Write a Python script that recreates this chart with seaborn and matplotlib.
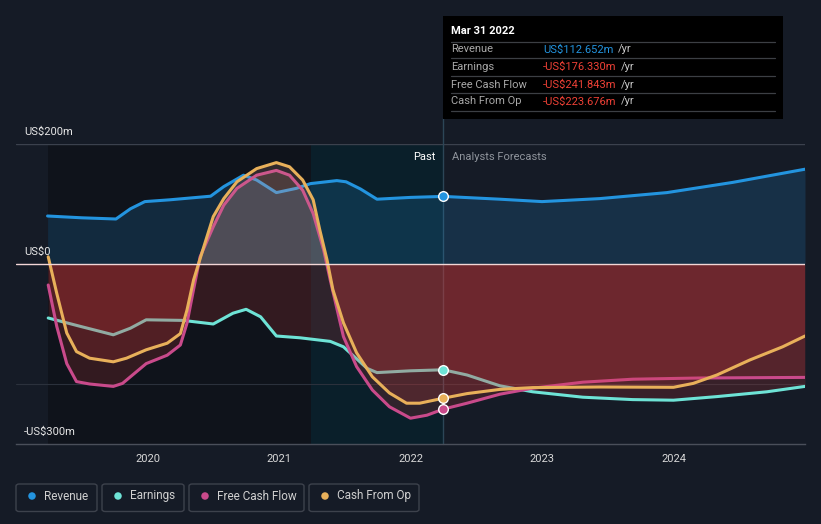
import numpy as np
import pandas as pd
import seaborn as sns
import matplotlib.pyplot as plt
from matplotlib.patches import Rectangle, FancyBboxPatch, Ellipse
from matplotlib.lines import Line2D
from matplotlib.text import Annotation

# ---- data (US$m, x in fractional years) ----
series_names = ["Revenue", "Earnings", "Free Cash Flow", "Cash From Op"]
series_colors = ["#2394df", "#6ee3d6", "#c94a8b", "#e8b05a"]

revenue_x = [2019.24, 2019.5, 2019.76, 2019.87, 2019.98, 2020.17, 2020.48, 2020.58, 2020.73, 2020.83,
             2020.98, 2021.13, 2021.24, 2021.44, 2021.51, 2021.62, 2021.745, 2022.0, 2022.25, 2022.68,
             2023.0, 2023.44, 2023.95, 2024.45, 2025.0]
revenue_y = [80, 77, 75, 92, 104, 107, 113, 129, 148, 140,
             119, 126, 134, 139, 137, 125, 108, 111, 112.652, 108,
             104, 109, 119, 136, 158]

earnings_x = [2019.245, 2019.49, 2019.74, 2019.87, 2019.99, 2020.27, 2020.5, 2020.65, 2020.75, 2020.86,
              2020.98, 2021.16, 2021.39, 2021.49, 2021.56, 2021.67, 2021.745, 2022.0, 2022.25, 2022.43,
              2022.68, 2022.93, 2023.31, 2023.69, 2024.0, 2024.33, 2024.71, 2025.0]
earnings_y = [-90, -104, -118, -107, -93, -94, -100, -82, -75.5, -88,
              -120, -123, -129, -138, -152, -174, -181, -178, -176.33, -185,
              -203, -213, -222, -226, -227, -221, -213, -204]

fcf_x = [2019.245, 2019.31, 2019.386, 2019.46, 2019.56, 2019.74, 2019.81, 2019.99, 2020.15, 2020.25,
         2020.30, 2020.35, 2020.40, 2020.50, 2020.58, 2020.68, 2020.83, 2020.98, 2021.08, 2021.18,
         2021.26, 2021.34, 2021.39, 2021.49, 2021.59, 2021.71, 2021.84, 2022.0, 2022.125, 2022.25,
         2022.43, 2022.68, 2022.93, 2023.31, 2023.69, 2024.2, 2025.0]
fcf_y = [-35, -104, -166, -196, -200, -204, -199, -166, -152, -135,
         -99, -43, 12, 62, 98, 126, 148, 156, 148, 123,
         84, 23, -27, -121, -171, -210, -238, -257, -252, -241.843,
         -232, -217, -207, -197, -192, -190, -189]

cfo_x = [2019.245, 2019.31, 2019.386, 2019.46, 2019.56, 2019.74, 2019.84, 2019.99, 2020.15, 2020.25,
         2020.30, 2020.35, 2020.42, 2020.50, 2020.58, 2020.68, 2020.83, 2020.98, 2021.08, 2021.18,
         2021.26, 2021.31, 2021.365, 2021.41, 2021.49, 2021.59, 2021.71, 2021.84, 2021.97, 2022.07,
         2022.25, 2022.43, 2022.68, 2022.93, 2023.44, 2024.0, 2024.15, 2024.33, 2024.58, 2024.83,
         2025.0]
cfo_y = [12, -49, -115, -146, -157, -163, -157, -143, -132, -116,
         -77, -27, 23, 79, 109, 137, 159, 169, 162, 140,
         107, 57, 7, -43, -98, -148, -188, -215, -232, -232,
         -223.676, -216, -209, -206, -205, -205.5, -199, -185, -160, -138,
         -120]

year_ticks = [2020, 2021, 2022, 2023, 2024]
year_labels = ["2020", "2021", "2022", "2023", "2024"]
y_label_vals = [200, 0, -300]
y_labels = ["US$200m", "US$0", "-US$300m"]

past_start = 2019.24
highlight_start = 2021.24
today = 2022.25

tip_title = "Mar 31 2022"
tip_values = ["US$112.652m", "-US$176.330m", "-US$241.843m", "-US$223.676m"]
tip_colors = ["#2394df", "#ef4136", "#ef4136", "#ef4136"]

frames = []
for name, xs, ys in zip(series_names, [revenue_x, earnings_x, fcf_x, cfo_x],
                        [revenue_y, earnings_y, fcf_y, cfo_y]):
    frames.append(pd.DataFrame({"year": xs, "value": ys, "series": name}))
df = pd.concat(frames, ignore_index=True)

# ---- figure ----
bg = "#151b26"
sns.set_theme(style="dark")
plt.rcParams["font.family"] = ["Roboto", "DejaVu Sans"]

W, H = 821, 524
fig = plt.figure(figsize=(W / 100, H / 100), dpi=100, facecolor=bg)
ax = fig.add_axes([16 / W, 1 - 444 / H, (805 - 16) / W, 300 / H])
ax.set_facecolor(bg)
ax.set_xlim(2019.0, 2025.0)
ax.set_ylim(-300, 200)

def px(x, y):
    return x / W, 1 - y / H

# shaded time regions
ax.axvspan(past_start, highlight_start, color="#000000", alpha=0.28, lw=0, zorder=0.5)
ax.axvspan(highlight_start, today, color="#03222e", alpha=0.6, lw=0, zorder=0.5)

# grid lines
ax.axhline(200, color="#3b414d", lw=1, zorder=1)
ax.axhline(-200, color="#2b313c", lw=0.8, zorder=1)

for i, name in enumerate(series_names):
    d = df[df["series"] == name]
    x = d["year"].to_numpy()
    y = d["value"].to_numpy()
    z = 2 + i
    if name == "Revenue":
        ax.fill_between(x, 0, y, color=series_colors[0], alpha=0.18, lw=0, zorder=z)
    else:
        ax.fill_between(x, 0, y, where=y <= 0, interpolate=True,
                        color="#dc3a3a", alpha=0.18, lw=0, zorder=z)
        ax.fill_between(x, 0, y, where=y >= 0, interpolate=True,
                        color="#e0a090", alpha=0.16, lw=0, zorder=z)
    sns.lineplot(data=d, x="year", y="value", color=series_colors[i], lw=2.2,
                 estimator=None, sort=False, ax=ax, zorder=z + 0.5)
    # marker at the latest reported point
    yv = y[np.argmin(np.abs(x - today))]
    ax.scatter([today], [yv], s=48, color=series_colors[i], edgecolor="white",
               linewidth=1, zorder=10)

ax.axhline(0, color="#f2d6d6", lw=1, zorder=9)

# vertical "today" line
ax.axvline(today, ymin=0, ymax=(444 - 118) / 300, color="#2c4657", lw=1,
           zorder=1, clip_on=False)

# axes styling
for s in ["top", "left", "right"]:
    ax.spines[s].set_visible(False)
ax.spines["bottom"].set_color("#4a4f5a")
ax.spines["bottom"].set_linewidth(1)
ax.set_xticks(year_ticks)
ax.set_xticklabels(year_labels)
ax.set_yticks([])
ax.tick_params(axis="x", colors="#4a4f5a", length=4, width=1, pad=3,
               labelcolor="#d8d8d8", labelsize=8)
ax.set_xlabel("")
ax.set_ylabel("")
ax.grid(False)

for v, lab in zip(y_label_vals, y_labels):
    ax.annotate(lab, xy=(2019.06, v), xytext=(0, 5), textcoords="offset points",
                va="bottom", ha="left", color="#e6e6e6", fontsize=8, zorder=12,
                annotation_clip=False)

ax.annotate("Past", xy=(today, 200), xytext=(-6, -9), textcoords="offset points",
            ha="right", va="center", color="#ffffff", fontsize=8, zorder=12)
ax.annotate("Analysts Forecasts", xy=(today, 200), xytext=(6, -9), textcoords="offset points",
            ha="left", va="center", color="#8f949c", fontsize=8, zorder=12)

# ---- tooltip box ----
x0, y0 = px(443, 119)
x1, y1 = px(783, 16)
fig.patches.append(Rectangle((x0, y0), x1 - x0, y1 - y0, transform=fig.transFigure,
                             facecolor="#000000", edgecolor="none", zorder=20))
fig.text(*px(451, 31), tip_title, color="#ffffff", fontsize=8, fontweight="bold",
         va="center", ha="left", zorder=21)
for sy in [41.7, 58.3, 76.3, 93.3, 111]:
    fig.add_artist(Line2D([451 / W, 775 / W], [1 - sy / H] * 2, color="#3c3f44",
                          lw=0.9, zorder=21))
for j, (name, val, col) in enumerate(zip(series_names, tip_values, tip_colors)):
    ry = [49.5, 66.5, 84.5, 101.5][j]
    fig.text(*px(451, ry), name, color="#a9a9a9", fontsize=8, va="center", ha="left", zorder=21)
    t = fig.text(*px(543, ry), val, color=col, fontsize=8, va="center", ha="left", zorder=21)
    unit = Annotation("/yr", xy=(1, 0.5), xycoords=t, xytext=(3, 0),
                      textcoords="offset points", color="#c8c8c8", fontsize=8,
                      va="center", ha="left", annotation_clip=False)
    unit.set_zorder(22)
    fig.add_artist(unit)

# ---- legend ----
box_left = [16, 102, 189, 309]
box_right = [97, 184, 304, 419]
for name, col, l, r in zip(series_names, series_colors, box_left, box_right):
    bx, by = px(l, 511.5)
    bw = (r - l) / W
    bh = 27.5 / H
    fig.patches.append(FancyBboxPatch((bx, by), bw, bh, transform=fig.transFigure,
                                      boxstyle="round,pad=0,rounding_size=0.004",
                                      facecolor="none", edgecolor="#3d424c", lw=1))
    cx, cy = px(l + 16, 496)
    fig.patches.append(Ellipse((cx, cy), 7.5 / W, 7.5 / H, transform=fig.transFigure,
                               facecolor=col, edgecolor="none"))
    fig.text(*px(l + 28, 496), name, color="#d0d0d0", fontsize=8.5,
             va="center", ha="left")

fig.savefig("out.png", dpi=100, facecolor=bg)
